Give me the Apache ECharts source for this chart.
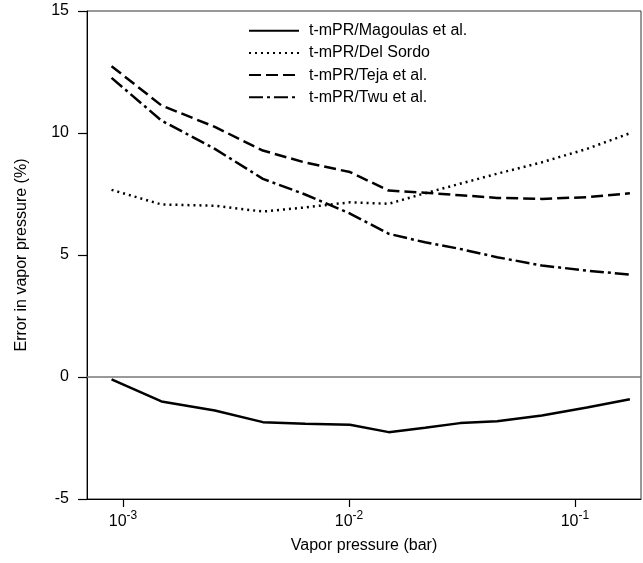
<!DOCTYPE html>
<html>
<head>
<meta charset="utf-8">
<script src="https://cdn.jsdelivr.net/npm/echarts@6/dist/echarts.min.js"></script>
<style>
html,body{margin:0;padding:0;background:#fff;}
#chart{width:643px;height:563px;}
</style>
</head>
<body>
<div id="chart"></div>
<script>
// Vapor pressure (bar)
var pressures = [0.00089, 0.00148, 0.00255, 0.00416, 0.0064, 0.0101, 0.0150, 0.0217, 0.031, 0.0452, 0.0714, 0.113, 0.175];
// Error in vapor pressure (%)
var magoulas = [-0.1, -1.0, -1.37, -1.85, -1.92, -1.96, -2.26, -2.08, -1.89, -1.81, -1.58, -1.25, -0.91];
var delSordo = [7.67, 7.07, 7.02, 6.78, 6.95, 7.16, 7.10, 7.53, 7.92, 8.33, 8.80, 9.35, 9.99];
var teja = [12.74, 11.13, 10.25, 9.28, 8.79, 8.40, 7.64, 7.55, 7.45, 7.34, 7.30, 7.37, 7.53];
var twu = [12.26, 10.51, 9.35, 8.12, 7.48, 6.70, 5.87, 5.52, 5.25, 4.91, 4.57, 4.36, 4.20];

var seriesNames = ['t-mPR/Magoulas et al.', 't-mPR/Del Sordo', 't-mPR/Teja et al.', 't-mPR/Twu et al.'];
var xTicks = [0.001, 0.01, 0.1];
var yTicks = [-5, 0, 5, 10, 15];

function pairs(vals) {
  return pressures.map(function (p, i) { return [p, vals[i]]; });
}

var font = '"Liberation Sans", Arial, Helvetica, sans-serif';
var chart = echarts.init(document.getElementById('chart'), null, {renderer: 'canvas'});

var lineStyles = [
  {type: 'solid'},
  {type: [2, 4]},
  {type: [12, 5]},
  {type: [14, 4, 3, 4]}
];
var datasets = [magoulas, delSordo, teja, twu];

var series = datasets.map(function (d, i) {
  var s = {
    name: seriesNames[i],
    type: 'line',
    data: pairs(d),
    symbol: 'none',
    smooth: false,
    lineStyle: {color: '#000', width: 2.5, type: lineStyles[i].type},
    itemStyle: {color: '#000'},
    z: 3
  };
  if (i === 0) {
    s.markLine = {
      silent: true,
      symbol: 'none',
      label: {show: false},
      lineStyle: {color: '#777', width: 1.5, type: 'solid'},
      data: [{yAxis: 0}],
      animation: false
    };
  }
  return s;
});

var option = {
  animation: false,
  backgroundColor: '#fff',
  textStyle: {fontFamily: font},
  grid: {left: 87, right: 2, top: 11, bottom: 64, show: true, borderColor: '#333', borderWidth: 1, backgroundColor: 'transparent'},
  legend: {
    orient: 'vertical',
    left: 248,
    top: 22.7,
    padding: 0,
    itemWidth: 50,
    itemHeight: 14,
    itemGap: 6.2,
    itemStyle: {color: 'transparent', borderColor: 'transparent', borderWidth: 0, opacity: 0},
    textStyle: {fontFamily: font, fontSize: 16, color: '#000', padding: [0, 0, 0, 5]},
    data: seriesNames
  },
  xAxis: {
    type: 'log',
    logBase: 10,
    min: 6.93e-4,
    max: 0.196,
    name: 'Vapor pressure (bar)',
    nameLocation: 'middle',
    nameGap: 39,
    nameTextStyle: {fontFamily: font, fontSize: 16, color: '#000'},
    axisLine: {onZero: false, lineStyle: {color: '#000', width: 1}},
    axisTick: {show: true, inside: false, length: 8, lineStyle: {color: '#000', width: 1.2}, customValues: xTicks},
    minorTick: {show: false},
    splitLine: {show: false},
    axisLabel: {
      customValues: xTicks,
      margin: 11,
      color: '#000',
      fontFamily: font,
      fontSize: 16,
      formatter: function (v) {
        var e = Math.round(Math.log(v) / Math.LN10);
        return '{b|10}{s|' + e + '}';
      },
      rich: {
        b: {fontSize: 16, fontFamily: font, color: '#000'},
        s: {fontSize: 12, fontFamily: font, color: '#000', padding: [0, 0, 11, 0]}
      }
    }
  },
  yAxis: {
    type: 'value',
    min: -5,
    max: 15,
    interval: 5,
    name: 'Error in vapor pressure (%)',
    nameLocation: 'middle',
    nameGap: 57,
    nameRotate: 90,
    nameTextStyle: {fontFamily: font, fontSize: 16, color: '#000'},
    axisLine: {show: true, onZero: false, lineStyle: {color: '#000', width: 1}},
    axisTick: {show: true, inside: false, length: 9, lineStyle: {color: '#000', width: 1.2}, customValues: yTicks},
    splitLine: {show: false},
    axisLabel: {margin: 18, color: '#000', fontFamily: font, fontSize: 16, customValues: yTicks}
  },
  series: series
};
chart.setOption(option);
</script>
</body>
</html>
